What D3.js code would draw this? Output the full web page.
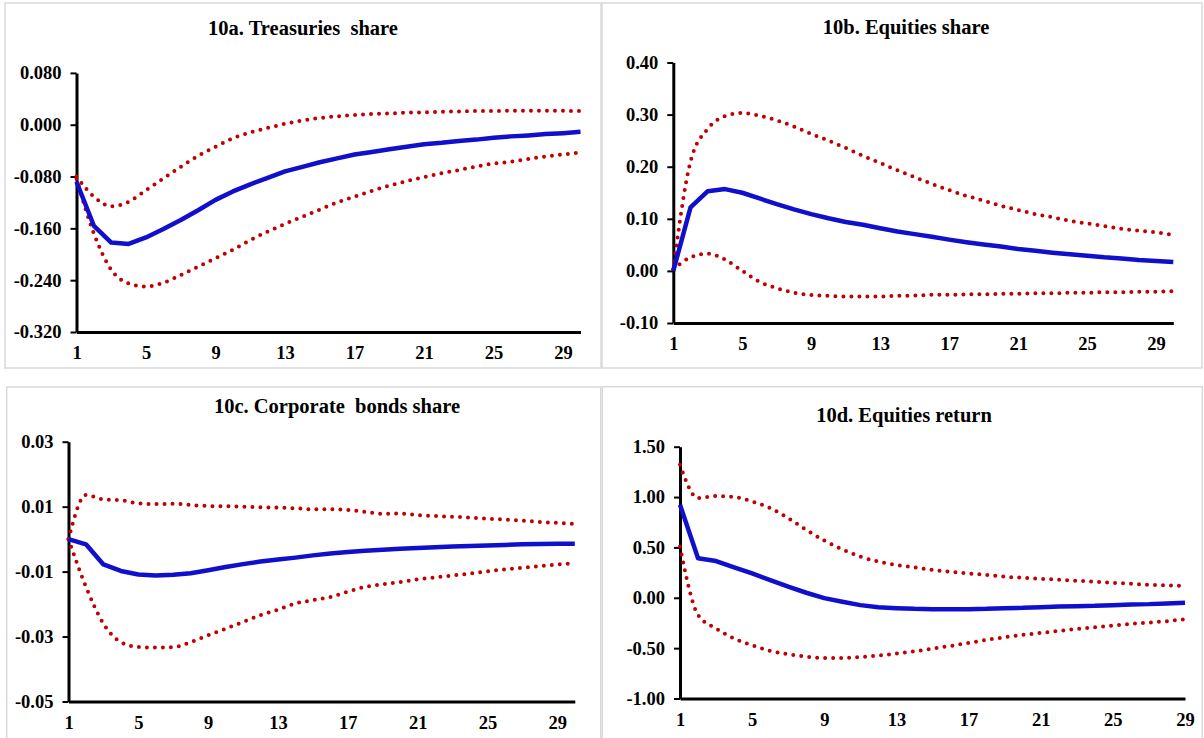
<!DOCTYPE html>
<html>
<head>
<meta charset="utf-8">
<script src="https://cdn.jsdelivr.net/npm/d3@7"></script>
<style>
  body { margin: 0; background: #fff; }
  svg { display: block; }
  .tick text, .title {
    font-family: "Liberation Serif", "DejaVu Serif", "Times New Roman", serif;
    font-weight: bold;
    fill: #000;
  }
  .title { white-space: pre; }
</style>
</head>
<body>
<svg id="chart" width="1204" height="738"></svg>
<script>

// Horizon labels shown on the x axis.
var xTicks = [1, 5, 9, 13, 17, 21, 25, 29];

// 10a. Treasuries share
var treasMid = [-0.088, -0.156, -0.182, -0.184, -0.174, -0.161, -0.147,
  -0.132, -0.116, -0.103, -0.092, -0.082, -0.072, -0.065, -0.058, -0.052,
  -0.046, -0.042, -0.038, -0.034, -0.030, -0.028, -0.025, -0.023, -0.020,
  -0.018, -0.0165, -0.0145, -0.013, -0.011];
var treasHi = [-0.080, -0.111, -0.126, -0.119, -0.101, -0.083, -0.065,
  -0.048, -0.034, -0.021, -0.012, -0.005, 0.0015, 0.0067, 0.0103, 0.013,
  0.015, 0.0165, 0.0175, 0.0186, 0.019, 0.020, 0.0205, 0.021, 0.021,
  0.0215, 0.0215, 0.0215, 0.0215, 0.021];
var treasLo = [-0.083, -0.168, -0.224, -0.245, -0.250, -0.244, -0.232,
  -0.219, -0.206, -0.193, -0.178, -0.165, -0.153, -0.142, -0.131, -0.120,
  -0.111, -0.102, -0.094, -0.087, -0.081, -0.075, -0.070, -0.0645, -0.060,
  -0.057, -0.053, -0.049, -0.046, -0.043];
var treasTicks = [0.08, 0, -0.08, -0.16, -0.24, -0.32];

// 10b. Equities share
var eqMid = [0.0, 0.122, 0.153, 0.157, 0.150, 0.139, 0.128, 0.118, 0.109,
  0.101, 0.094, 0.0886, 0.082, 0.0757, 0.0706, 0.0655, 0.060, 0.055, 0.0507,
  0.047, 0.042, 0.0385, 0.035, 0.032, 0.029, 0.026, 0.024, 0.021, 0.019,
  0.017];
var eqHi = [0.003, 0.210, 0.273, 0.297, 0.303, 0.298, 0.289, 0.277, 0.263,
  0.250, 0.236, 0.221, 0.207, 0.193, 0.180, 0.167, 0.155, 0.144, 0.135,
  0.125, 0.117, 0.109, 0.103, 0.096, 0.091, 0.086, 0.081, 0.077, 0.074,
  0.069];
var eqLo = [0.003, 0.026, 0.033, 0.022, 0.0, -0.021, -0.033, -0.042, -0.046,
  -0.048, -0.049, -0.049, -0.049, -0.048, -0.0475, -0.046, -0.046, -0.045,
  -0.045, -0.044, -0.044, -0.043, -0.043, -0.042, -0.042, -0.041, -0.041,
  -0.040, -0.040, -0.039];
var eqTicks = [0.4, 0.3, 0.2, 0.1, 0, -0.1];

// 10c. Corporate bonds share
var corpMid = [0.0, -0.0016, -0.0078, -0.0098, -0.0109, -0.0112, -0.011,
  -0.0105, -0.0096, -0.0086, -0.0077, -0.0069, -0.0063, -0.0057, -0.005,
  -0.0044, -0.004, -0.0036, -0.0033, -0.003, -0.0027, -0.0025, -0.0023,
  -0.0021, -0.002, -0.0018, -0.0016, -0.0015, -0.0014, -0.0014];
var corpHi = [0.0, 0.0136, 0.0122, 0.012, 0.011, 0.0108, 0.0109, 0.0105,
  0.0102, 0.0101, 0.010, 0.0098, 0.0097, 0.0095, 0.0092, 0.0092, 0.009,
  0.0084, 0.0078, 0.0079, 0.0074, 0.0071, 0.0069, 0.0066, 0.0063, 0.006,
  0.0057, 0.0053, 0.005, 0.0047];
var corpLo = [0.0, -0.0147, -0.026, -0.0317, -0.0332, -0.0334, -0.0333,
  -0.0317, -0.0296, -0.0276, -0.0255, -0.0234, -0.0217, -0.0198, -0.0188,
  -0.0178, -0.0162, -0.0147, -0.0139, -0.0132, -0.0124, -0.0118, -0.0112,
  -0.0106, -0.0099, -0.0093, -0.0088, -0.0083, -0.0078, -0.0074];
var corpTicks = [0.03, 0.01, -0.01, -0.03, -0.05];

// 10d. Equities return
var retMid = [0.923, 0.392, 0.365, 0.302, 0.242, 0.176, 0.110, 0.050,
  -0.003, -0.040, -0.073, -0.093, -0.103, -0.110, -0.113, -0.113, -0.113,
  -0.110, -0.103, -0.100, -0.093, -0.086, -0.083, -0.080, -0.073, -0.066,
  -0.063, -0.056, -0.050];
var retHi = [1.32, 0.99, 1.01, 1.00, 0.956, 0.89, 0.79, 0.674, 0.568, 0.481,
  0.408, 0.359, 0.325, 0.302, 0.276, 0.259, 0.242, 0.226, 0.209, 0.199,
  0.189, 0.179, 0.169, 0.159, 0.149, 0.139, 0.129, 0.123, 0.116];
var retLo = [0.508, -0.17, -0.305, -0.405, -0.471, -0.528, -0.561, -0.584,
  -0.598, -0.598, -0.588, -0.574, -0.554, -0.531, -0.505, -0.478, -0.448,
  -0.418, -0.392, -0.369, -0.349, -0.329, -0.309, -0.292, -0.276, -0.259,
  -0.246, -0.232, -0.212];
var retTicks = [1.5, 1.0, 0.5, 0, -0.5, -1.0];


var svg = d3.select('#chart');


/**
 * Draw one panel: frame, title, axes, bands and response.
 */
function panel(p) {

  var n = p.mid.length;
  var g = svg.append('g');

  // Light frame round the panel.
  g.append('rect')
    .attr('x', p.box[0]).attr('y', p.box[1])
    .attr('width', p.box[2]).attr('height', p.box[3])
    .attr('fill', 'none').attr('stroke', '#d9d9d9').attr('stroke-width', 1.5);

  g.append('text').attr('class', 'title')
    .attr('x', p.title[0]).attr('y', p.title[1])
    .attr('text-anchor', 'middle').attr('dy', '0.35em')
    .style('font-size', '20.5px')
    .text(p.name);

  var x = d3.scaleLinear().domain([1, n]).range([p.x0, p.x1]);
  var y = d3.scaleLinear()
    .domain([p.ticks[p.ticks.length - 1], p.ticks[0]])
    .range([p.y1, p.y0]);

  // Y axis with short outer ticks.
  var ya = g.append('g').attr('transform', 'translate(' + p.x0 + ',0)')
    .call(d3.axisLeft(y).tickValues(p.ticks).tickSize(6).tickPadding(9)
      .tickFormat(d3.format(p.fmt)).tickSizeOuter(0));
  ya.attr('font-family', null);
  ya.select('.domain').attr('stroke-width', 3);
  ya.selectAll('.tick line').attr('stroke-width', 2);
  ya.selectAll('.tick text').style('font-size', '18.5px')
    .text(function(d) { return d3.format(p.fmt)(d).replace('−', '-'); });

  // X axis along the bottom of the range, labels only.
  var xa = g.append('g').attr('transform', 'translate(0,' + p.y1 + ')')
    .call(d3.axisBottom(x).tickValues(xTicks).tickSize(0).tickPadding(14)
      .tickFormat(d3.format('d')).tickSizeOuter(0));
  xa.attr('font-family', null);
  xa.select('.domain').attr('stroke-width', 3);
  xa.selectAll('.tick text').style('font-size', '18.5px');

  var band = d3.line()
    .x(function(d, i) { return x(i + 1); })
    .y(function(d) { return y(d); })
    .curve(d3.curveMonotoneX);

  var resp = d3.line()
    .x(function(d, i) { return x(i + 1); })
    .y(function(d) { return y(d); });

  [p.hi, p.lo].forEach(function(s) {
    g.append('path').datum(s).attr('d', band)
      .attr('fill', 'none').attr('stroke', '#c00000')
      .attr('stroke-width', 4).attr('stroke-linecap', 'round')
      .attr('stroke-dasharray', '0 8');
  });

  g.append('path').datum(p.mid).attr('d', resp)
    .attr('fill', 'none').attr('stroke', '#0f0fcc')
    .attr('stroke-width', 4.5).attr('stroke-linejoin', 'round');

}


panel({
  name: '10a. Treasuries  share', mid: treasMid, hi: treasHi, lo: treasLo,
  ticks: treasTicks, fmt: '.3f',
  box: [5, 3, 596, 365], title: [303, 28],
  x0: 76.5, x1: 580.5, y0: 72.9, y1: 332
});

panel({
  name: '10b. Equities share', mid: eqMid, hi: eqHi, lo: eqLo,
  ticks: eqTicks, fmt: '.2f',
  box: [602, 3, 600, 365], title: [906, 27],
  x0: 673.3, x1: 1173.3, y0: 62.5, y1: 323
});

panel({
  name: '10c. Corporate  bonds share', mid: corpMid, hi: corpHi, lo: corpLo,
  ticks: corpTicks, fmt: '.2f',
  box: [6.7, 387, 594, 360], title: [337, 406],
  x0: 68.5, x1: 574.8, y0: 441.7, y1: 701.5
});

panel({
  name: '10d. Equities return', mid: retMid, hi: retHi, lo: retLo,
  ticks: retTicks, fmt: '.2f',
  box: [602.3, 386.7, 600, 360], title: [904, 415],
  x0: 680, x1: 1185, y0: 446.7, y1: 698.5
});

</script>
</body>
</html>
